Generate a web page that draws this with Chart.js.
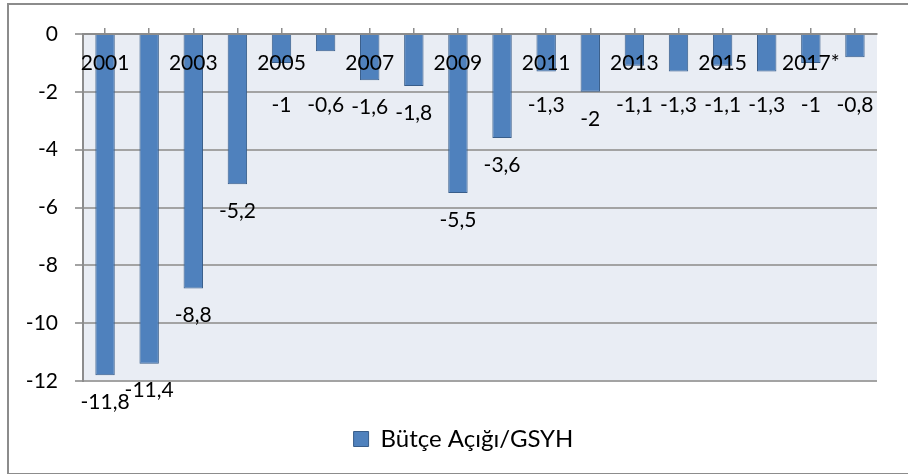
<!DOCTYPE html>
<html>
<head>
<meta charset="utf-8">
<script src="https://cdn.jsdelivr.net/npm/chart.js@4"></script>
<style>
  body { margin: 0; background: #fff; overflow: hidden; }
  #wrap { position: relative; width: 908px; height: 474px; }
  #frame { position: absolute; left: 7px; top: 3px; width: 920px; height: 468px; border: 2px solid #8c8c8c; pointer-events: none; }
</style>
</head>
<body>
<div id="wrap">
  <canvas id="chart" width="908" height="461"></canvas>
  <div id="frame"></div>
</div>
<script>
// data
const years = ['2001', '2002', '2003', '2004', '2005', '2006', '2007', '2008', '2009',
               '2010', '2011', '2012', '2013', '2014', '2015', '2016', '2017*', '2018*']
const deficit = [-11.8, -11.4, -8.8, -5.2, -1, -0.6, -1.6, -1.8, -5.5,
                 -3.6, -1.3, -2, -1.1, -1.3, -1.1, -1.3, -1, -0.8]
const seriesName = 'Bütçe Açığı/GSYH'
const yTicks = [0, -2, -4, -6, -8, -10, -12]

const fontFamily = 'Lato'
const gridColor = '#a3a3a3'

function fmt(v) {
    return String(v).replace('.', ',')
}

// light plot background like the excel chart
const plotBg = {
    id: 'plotBg',
    beforeDraw(chart) {
        const a = chart.chartArea
        const ctx = chart.ctx
        ctx.save()
        ctx.fillStyle = '#e9edf4'
        ctx.fillRect(a.left, a.top, a.right - a.left, a.bottom - a.top)
        ctx.restore()
    }
}

// legend in the excel chart sits a bit right of the canvas centre
const legendShift = {
    id: 'legendShift',
    afterLayout(chart) {
        chart.legend.left = 50
    }
}

// value labels under each bar (small bars get pushed below the year labels)
const valueLabels = {
    id: 'valueLabels',
    afterDraw(chart) {
        const ctx = chart.ctx
        const meta = chart.getDatasetMeta(0)
        ctx.save()
        ctx.font = '21px ' + fontFamily
        ctx.fillStyle = '#000'
        ctx.textAlign = 'center'
        ctx.textBaseline = 'middle'
        meta.data.forEach((bar, i) => {
            let y = Math.max(bar.y + 27, 105)
            ctx.fillText(fmt(deficit[i]), bar.x, y)
        })
        ctx.restore()
    }
}

Chart.defaults.color = '#000'
Chart.defaults.font.family = fontFamily

const ctx = document.querySelector('#chart').getContext('2d')

new Chart(ctx, {
    type: 'bar',
    data: {
        labels: years,
        datasets: [{
            label: seriesName,
            data: deficit,
            backgroundColor: '#4f81bd',
            borderColor: '#385d8a',
            borderWidth: 1,
            barPercentage: 0.44,
            categoryPercentage: 1
        }]
    },
    options: {
        responsive: false,
        animation: false,
        layout: { padding: { top: 34, right: 31, left: 0, bottom: 0 } },
        plugins: {
            legend: {
                position: 'bottom',
                labels: {
                    boxWidth: 15,
                    boxHeight: 15,
                    padding: 46,
                    font: { size: 24, family: fontFamily },
                    color: '#000'
                }
            },
            tooltip: { enabled: false }
        },
        scales: {
            x: {
                position: { y: 0 },
                grid: {
                    offset: false,
                    drawOnChartArea: false,
                    drawTicks: true,
                    tickLength: -7,
                    tickColor: '#8c8c8c',
                    lineWidth: 1.5,
                    z: 1
                },
                border: { display: true, color: '#8c8c8c', width: 2, z: 1 },
                ticks: {
                    z: 1,
                    autoSkip: false,
                    maxRotation: 0,
                    padding: 24,
                    font: { size: 21 },
                    callback: (val, idx) => idx % 2 === 0 ? years[idx] : ''
                }
            },
            y: {
                min: -12,
                max: 0,
                afterFit(scale) { scale.width = 83 },
                afterBuildTicks(scale) { scale.ticks = yTicks.map(v => ({ value: v })) },
                grid: { color: gridColor, lineWidth: 2, tickLength: 8 },
                border: { display: true, color: '#8c8c8c', width: 2 },
                ticks: {
                    padding: 17,
                    font: { size: 21 },
                    callback: v => String(v)
                }
            }
        }
    },
    plugins: [plotBg, legendShift, valueLabels]
})
</script>
</body>
</html>
